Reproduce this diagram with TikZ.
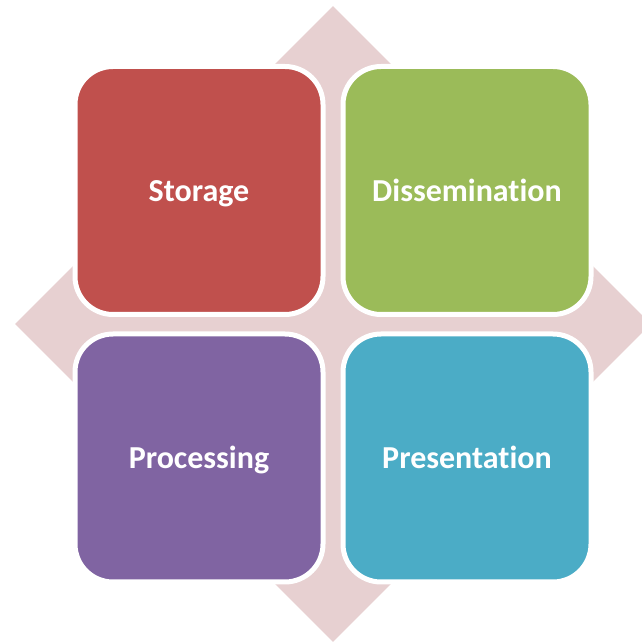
\documentclass[tikz,border=0pt]{standalone}
\usepackage{fontspec}
\setmainfont{Carlito}[Ligatures=NoCommon]
\usepackage{tikz}
\usetikzlibrary{shapes.geometric}

\definecolor{backpink}{RGB}{231,208,209}
\definecolor{storagered}{RGB}{192,80,77}
\definecolor{dissgreen}{RGB}{155,187,89}
\definecolor{procpurple}{RGB}{128,100,162}
\definecolor{presblue}{RGB}{75,172,198}

\begin{document}
\begin{tikzpicture}[x=1pt, y=1pt,
    quad/.style={rectangle, draw=white, line width=5pt, rounded corners=38pt,
        minimum width=248pt, minimum height=248pt, inner sep=0pt,
        text height=24pt, text depth=2.4pt,
        text=white, font=\fontsize{32}{38}\selectfont\bfseries}]
    \useasboundingbox (0, 0) rectangle (641, 643);

    % Define nodes
    \node[diamond, fill=backpink, minimum width=636pt, minimum height=636pt, inner sep=0pt] at (333, 319) (back) {};
    \node[quad, fill=storagered] at (199, 452.5) (storage) {Storage};
    \node[quad, fill=dissgreen] at (467, 452.5) (dissemination) {Dissemination};
    \node[quad, fill=procpurple] at (199, 185) (processing) {Processing};
    \node[quad, fill=presblue] at (467, 185) (presentation) {Presentation};
\end{tikzpicture}
\end{document}
